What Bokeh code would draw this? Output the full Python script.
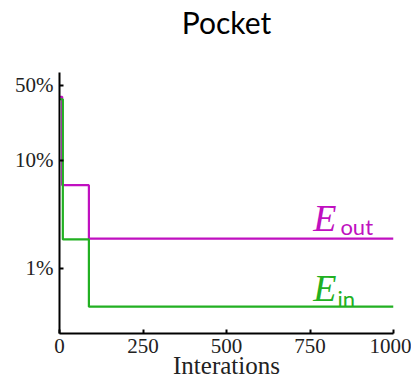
from bokeh.plotting import figure
from bokeh.models import FixedTicker, Range1d, LinearAxis
from bokeh.core.properties import value
from bokeh.embed import file_html
from bokeh.resources import INLINE

# data
iter_out = [0, 8, 88, 1000]
err_out = [0.39, 0.059, 0.0188, 0.0188]
iter_in = [0, 10, 88, 1000]
err_in = [0.37, 0.0185, 0.0044, 0.0044]
x_ticks = [0, 250, 500, 750, 1000]
y_ticks = [0.01, 0.1, 0.5]
y_tick_labels = ["1%", "10%", "50%"]

MAG = "#C010C0"
GRN = "#22B022"

p = figure(width=411, height=385, output_backend="svg", toolbar_location=None, title=None,
           y_axis_type="log", x_range=Range1d(0, 1000), y_range=Range1d(0.00248, 0.655),
           min_border_left=59, min_border_right=18, min_border_top=69, min_border_bottom=52)
p.outline_line_color = None
p.grid.visible = False
p.background_fill_color = "white"

bottom_axis = p.below[0]
left_axis = p.left[0]

p.step(iter_out, err_out, mode="after", line_color=MAG, line_width=2.2)
p.step(iter_in, err_in, mode="after", line_color=GRN, line_width=2.2)

# curve labels
p.text(x=[760], y=[0.0290], text=["E"], text_color=MAG, text_font=value("Liberation Serif"),
       text_font_style="italic", text_font_size="38px", text_baseline="middle")
p.text(x=[841], y=[0.0242], text=["out"], text_color=MAG, text_font=value("Lato"),
       text_font_size="22px", text_baseline="middle")
p.text(x=[760], y=[0.00662], text=["E"], text_color=GRN, text_font=value("Liberation Serif"),
       text_font_style="italic", text_font_size="38px", text_baseline="middle")
p.text(x=[832], y=[0.00519], text=["in"], text_color=GRN, text_font=value("Lato"),
       text_font_size="22px", text_baseline="middle")

for ax in (bottom_axis, left_axis):
    ax.axis_line_width = 2
    ax.axis_line_color = "black"
    ax.major_tick_in = 4
    ax.major_tick_out = 0
    ax.major_tick_line_width = 2
    ax.minor_tick_line_color = None
    ax.major_label_text_font = "Liberation Serif"
    ax.major_label_text_font_size = "21px"
    ax.major_label_text_color = "#222222"

bottom_axis.ticker = FixedTicker(ticks=x_ticks)
bottom_axis.major_label_standoff = 5
bottom_axis.axis_label = "Interations"
bottom_axis.axis_label_text_font = "Liberation Serif"
bottom_axis.axis_label_text_font_size = "25px"
bottom_axis.axis_label_text_font_style = "normal"
bottom_axis.axis_label_text_color = "#222222"
bottom_axis.axis_label_standoff = -4

left_axis.ticker = FixedTicker(ticks=y_ticks)
left_axis.major_label_overrides = {t: l for t, l in zip(y_ticks, y_tick_labels)}
left_axis.major_label_standoff = 6

# title drawn as the label of a bare axis above the frame
top_axis = LinearAxis(axis_label="Pocket", ticker=FixedTicker(ticks=[]),
                      axis_line_color=None, major_tick_line_color=None,
                      minor_tick_line_color=None, major_tick_in=0, major_tick_out=0,
                      minor_tick_in=0, minor_tick_out=0,
                      major_label_text_font_size="0px",
                      axis_label_text_font="Lato", axis_label_text_font_size="30px",
                      axis_label_text_font_style="normal", axis_label_text_color="black",
                      axis_label_standoff=33)
p.add_layout(top_axis, "above")

open("out.html", "w").write(file_html(p, INLINE))
